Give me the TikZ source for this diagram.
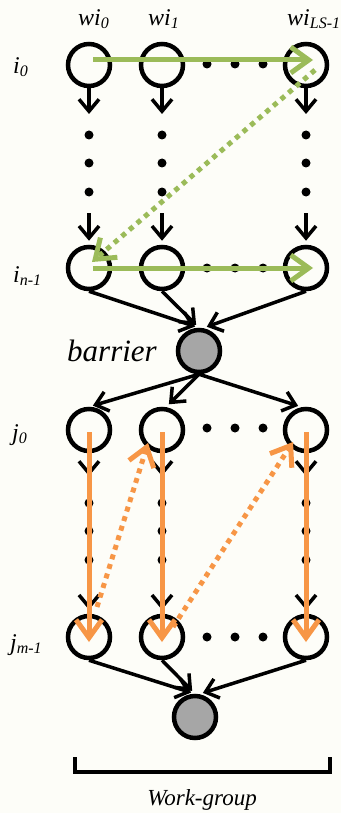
\documentclass[tikz,border=0pt]{standalone}
\usepackage{fontspec}
\setmainfont{Liberation Serif}
\usetikzlibrary{arrows.meta}
\definecolor{pagebg}{HTML}{FDFDF8}
\definecolor{wigreen}{HTML}{9BBB59}
\definecolor{wiorange}{HTML}{F79646}
\definecolor{barfill}{HTML}{A6A6A6}
\newcommand{\lsub}[1]{\raisebox{-3pt}{\fontsize{16}{16}\selectfont #1}}
\tikzset{
  wi/.style={circle, draw, line width=4.5pt, minimum size=42pt, inner sep=0pt},
  barnode/.style={wi, fill=barfill},
  dep/.style={line width=3.5pt, shorten >=4pt, -{Straight Barb[length=12pt,width=20pt]}},
  order/.style={line width=5pt, -{Straight Barb[length=18pt,width=26pt]}},
  lbl/.style={font=\fontsize{24}{24}\selectfont\itshape, inner sep=0pt, anchor=base west},
}
\begin{document}
\begin{tikzpicture}[x=1pt, y=-1pt]
  \fill[pagebg] (0,0) rectangle (341,813);
  \useasboundingbox (0,0) rectangle (341,813);

  % work-items, one column each
  \foreach \c/\x in {a/89, b/162, c/306} {
    \node[wi] (i0\c) at (\x,65) {};
    \node[wi] (in\c) at (\x,268) {};
    \node[wi] (j0\c) at (\x,430) {};
    \node[wi] (jm\c) at (\x,637) {};
    \coordinate (iA\c) at (\x,118);
    \coordinate (iB\c) at (\x,213);
    \coordinate (jA\c) at (\x,480);
    \coordinate (jB\c) at (\x,588);
    \draw[dep] (i0\c) -- (iA\c);
    \draw[dep] (iB\c) -- (in\c);
    \draw[dep] (j0\c) -- (jA\c);
    \draw[dep] (jB\c) -- (jm\c);
    \foreach \y in {135,163,192,503,531,560}
      \fill (\x,\y) circle (4.5pt);
  }
  % the work-items in between
  \foreach \y in {64,268,428,637}
    \foreach \x in {207,235,263}
      \fill (\x,\y) circle (4.5pt);

  \node[barnode] (bar1) at (199,351) {};
  \node[barnode] (bar2) at (195,717) {};
  \foreach \c in {a,b} {
    \draw[dep] (in\c.south) -- (bar1.north);
    \draw[dep] (jm\c.south) -- (bar2.north);
  }
  \draw[dep] (inc.south) -- (bar1.80);
  \draw[dep] (jmc.south) -- (bar2.80);
  \draw[dep] (bar1.south) -- (j0a.north);
  \draw[dep] (bar1.south) -- (j0b.80);
  \draw[dep] (bar1.south) -- (j0c.100);

  % labels
  \node[lbl] (wi0) at (78,26) {wi\lsub{0}};
  \node[lbl] (wi1) at (148,26) {wi\lsub{1}};
  \node[lbl] (wiLS) at (287,26) {wi\lsub{LS-1}};
  \node[lbl] (rowi0) at (13,74) {i\lsub{0}};
  \node[lbl] (rowin) at (13,282) {i\lsub{n-1}};
  \node[lbl] (rowj0) at (12,440) {j\lsub{0}};
  \node[lbl] (rowjm) at (10,650) {j\lsub{m-1}};
  \node[lbl, font=\fontsize{31}{31}\selectfont\itshape] (barlbl) at (67,361) {barrier};

  % row-major order before the barrier
  \draw[order, wigreen, shorten <=4pt, shorten >=-7pt] ([yshift=5pt]i0a.center) -- ([yshift=5pt]i0c.center);
  \draw[order, wigreen, shorten <=4pt, shorten >=-7pt] (ina.center) -- (inc.center);
  \draw[order, wigreen, dash pattern=on 5pt off 5pt] ([shift={(9pt,-5pt)}]i0c.center) -- ([shift={(3pt,6pt)}]ina.center);

  % column-major order after it
  \foreach \c in {a,b,c}
    \draw[order, wiorange, shorten <=2pt, shorten >=-5pt] (j0\c.center) -- (jm\c.center);
  \draw[order, wiorange, dash pattern=on 5pt off 5pt] ([shift={(8pt,30pt)}]jma.center) -- ([shift={(-14pt,-13pt)}]j0b.center);
  \draw[order, wiorange, dash pattern=on 5pt off 5pt] ([shift={(11pt,10pt)}]jmb.center) -- ([shift={(-13pt,-12pt)}]j0c.center);

  % work-group bracket
  \draw[line width=4pt] (75,757) -- (75,772) -- (330,772) -- (330,757);
  \node[font=\fontsize{23}{23}\selectfont\itshape, anchor=base] (wg) at (202,805) {Work-group};
\end{tikzpicture}
\end{document}
